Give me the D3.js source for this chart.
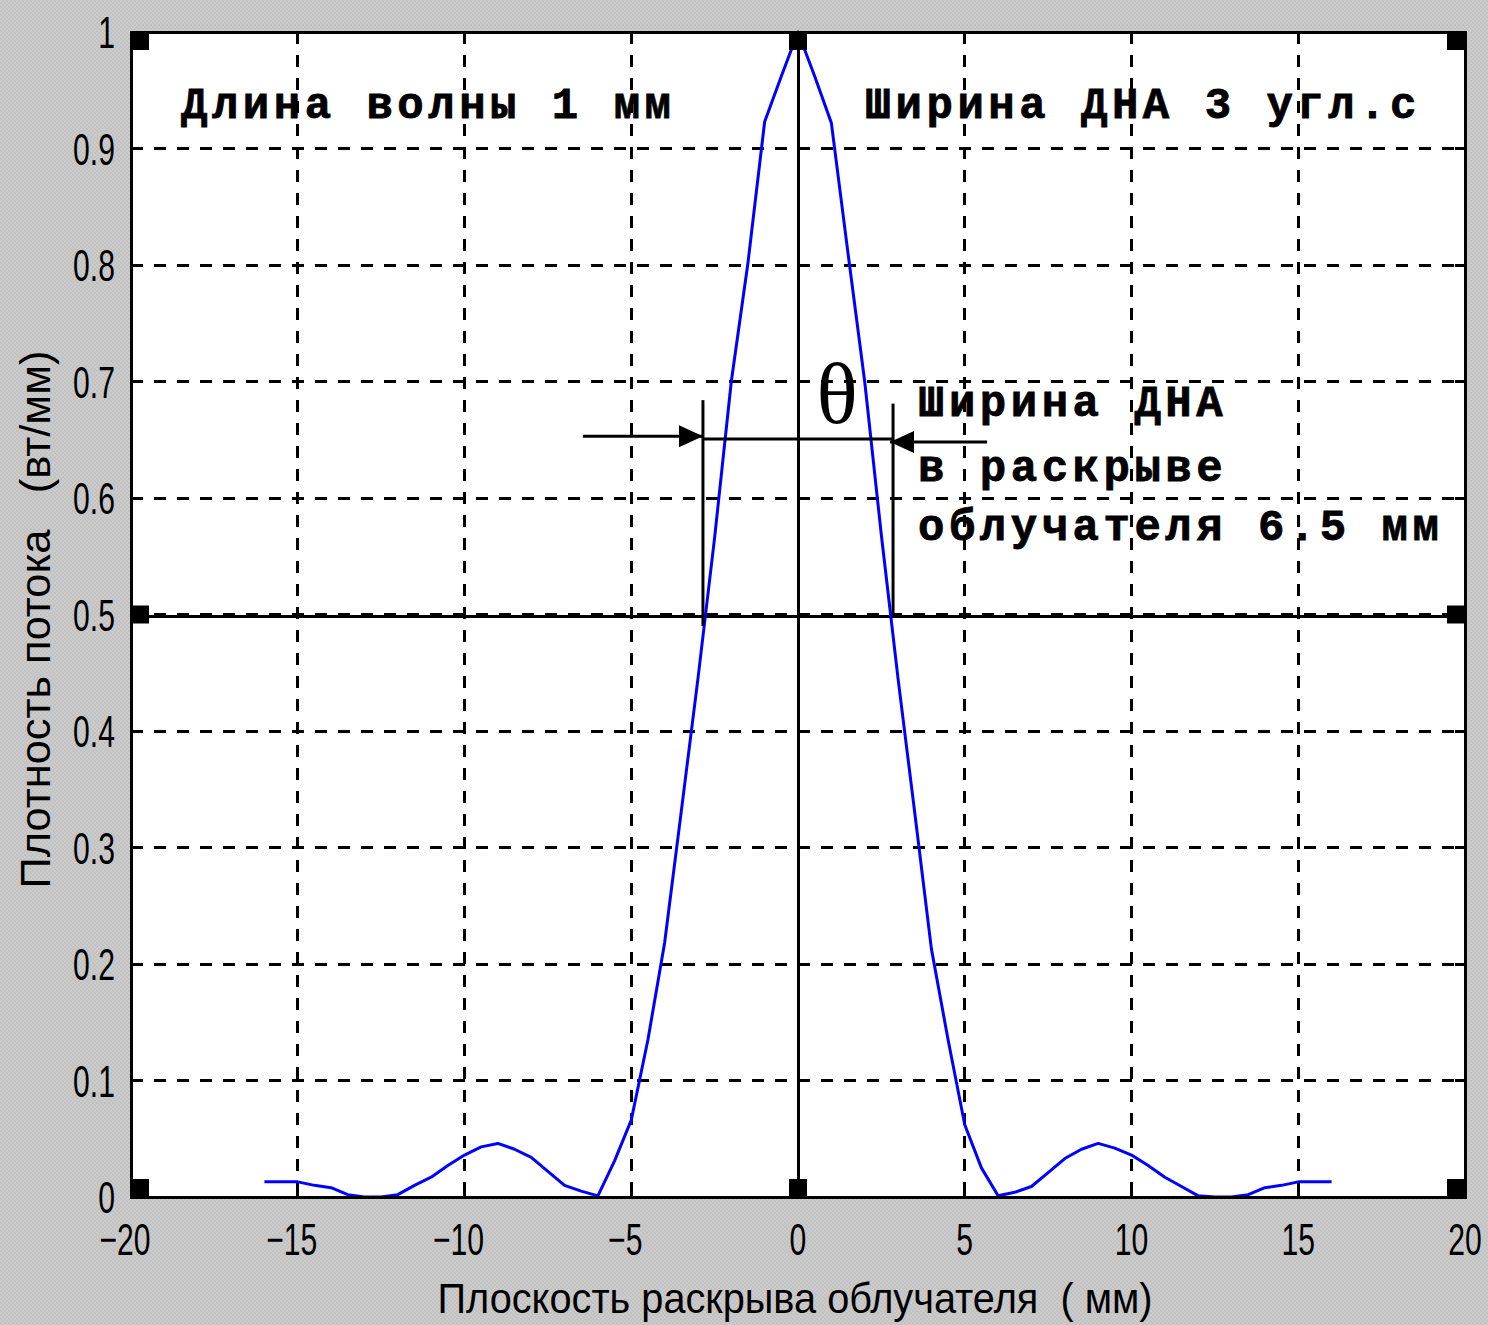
<!DOCTYPE html>
<html>
<head>
<meta charset="utf-8">
<script src="https://cdn.jsdelivr.net/npm/d3@7"></script>
<style>
  html, body { margin: 0; padding: 0; background: #c6c6c6; }
  svg { display: block; }
  text { white-space: pre; }
</style>
</head>
<body>
<script>
// Flux density across the feed aperture plane (mm), normalised to the peak.
const apertureMm = [
  -16, -15.5, -15, -14.5, -14, -13.5, -13, -12.5, -12, -11.5, -11, -10.5,
  -10, -9.5, -9, -8.5, -8, -7.5, -7, -6.5, -6, -5.5, -5, -4.5,
  -4, -3.5, -3, -2.5, -2, -1.5, -1, -0.5, 0,
  0.5, 1, 1.5, 2, 2.5, 3, 3.5, 4, 4.5, 5, 5.5,
  6, 6.5, 7, 7.5, 8, 8.5, 9, 9.5, 10, 10.5, 11, 11.5,
  12, 12.5, 13, 13.5, 14, 14.5, 15, 15.5, 16
];
const fluxDensity = [
  0.013, 0.013, 0.013, 0.010, 0.008, 0.002, 0.000, 0.000, 0.002, 0.010, 0.017, 0.027,
  0.036, 0.043, 0.046, 0.041, 0.034, 0.022, 0.010, 0.005, 0.001, 0.031, 0.066, 0.135,
  0.218, 0.331, 0.445, 0.566, 0.700, 0.802, 0.923, 0.962, 1.000,
  0.962, 0.922, 0.810, 0.700, 0.568, 0.445, 0.330, 0.213, 0.135, 0.062, 0.025,
  0.001, 0.004, 0.009, 0.021, 0.033, 0.041, 0.046, 0.042, 0.036, 0.027, 0.017, 0.009,
  0.001, 0.000, 0.000, 0.002, 0.008, 0.010, 0.013, 0.013, 0.013
];

const xTicks = [-20, -15, -10, -5, 0, 5, 10, 15, 20];
const xTickLabels = ["\u221220", "\u221215", "\u221210", "\u22125", "0", "5", "10", "15", "20"];
const yTicks = [0, 0.1, 0.2, 0.3, 0.4, 0.5, 0.6, 0.7, 0.8, 0.9, 1];
const yTickLabels = ["0", "0.1", "0.2", "0.3", "0.4", "0.5", "0.6", "0.7", "0.8", "0.9", "1"];

// Square markers on the frame points
const markerX = [-20, 0, 20, -20, 20, -20, 0, 20];
const markerY = [1, 1, 1, 0.5, 0.5, 0, 0, 0];

// Half-power level and beam edges
const halfPowerLevel = 0.5;
const beamEdges = [-2.85, 2.85];

// Annotation text (data coordinates of the text start / baseline)
const noteText = ["Длина волны 1 мм", "Ширина ДНА 3 угл.с", "Ширина ДНА", "в раскрыве", "облучателя 6.5 мм"];
const noteX = [-18.5, 2.0, 3.6, 3.6, 3.6];
const noteY = [0.926, 0.926, 0.67, 0.615, 0.564];

const xTitle = "Плоскость раскрыва облучателя  ( мм)";
const yTitle = "Плотность потока   (вт/мм)";

const W = 1488, H = 1325;
const margin = { left: 131, right: 23, top: 32, bottom: 128 };
const plotW = W - margin.left - margin.right;
const plotH = H - margin.top - margin.bottom;

const x = d3.scaleLinear().domain([-20, 20]).range([margin.left, margin.left + plotW]);
const y = d3.scaleLinear().domain([0, 1]).range([margin.top + plotH, margin.top]);

const svg = d3.select("body").append("svg")
  .attr("width", W).attr("height", H);

const defs = svg.append("defs");
// Dithered grey window background
const pat = defs.append("pattern").attr("id", "dither")
  .attr("width", 4).attr("height", 4).attr("patternUnits", "userSpaceOnUse");
pat.append("rect").attr("width", 4).attr("height", 4).attr("fill", "#c2c2c2");
pat.append("rect").attr("width", 2).attr("height", 2).attr("fill", "#cbcbcb");
pat.append("rect").attr("x", 2).attr("y", 2).attr("width", 2).attr("height", 2).attr("fill", "#cbcbcb");

defs.append("marker").attr("id", "arrowHead")
  .attr("markerUnits", "userSpaceOnUse")
  .attr("viewBox", "0 0 24 22").attr("refX", 24).attr("refY", 11)
  .attr("markerWidth", 24).attr("markerHeight", 22).attr("orient", "auto")
  .append("path").attr("d", "M0,0 L24,11 L0,22 Z").attr("fill", "#000");

svg.append("rect").attr("width", W).attr("height", H).attr("fill", "url(#dither)");

// Plot area
svg.append("rect")
  .attr("x", x(-20)).attr("y", y(1))
  .attr("width", x(20) - x(-20)).attr("height", y(0) - y(1))
  .attr("fill", "#fff");

const plot = svg.append("g");

// Dashed grid
plot.selectAll("line.vgrid").data(xTicks.filter(v => v !== 0 && Math.abs(v) !== 20))
  .join("line").attr("class", "vgrid")
  .attr("x1", d => x(d)).attr("x2", d => x(d))
  .attr("y1", y(1)).attr("y2", y(0))
  .attr("stroke", "#000").attr("stroke-width", 3)
  .attr("stroke-dasharray", "12,11").attr("shape-rendering", "crispEdges");

plot.selectAll("line.hgrid").data(yTicks.filter(v => v > 0 && v < 1))
  .join("line").attr("class", "hgrid")
  .attr("x1", x(-20)).attr("x2", x(20))
  .attr("y1", d => y(d)).attr("y2", d => y(d))
  .attr("stroke", "#000").attr("stroke-width", 3)
  .attr("stroke-dasharray", "12,11").attr("shape-rendering", "crispEdges");

// Solid reference lines: centre axis and half-power level
plot.append("line")
  .attr("x1", x(0)).attr("x2", x(0)).attr("y1", y(1)).attr("y2", y(0))
  .attr("stroke", "#000").attr("stroke-width", 3).attr("shape-rendering", "crispEdges");
plot.append("line")
  .attr("x1", x(-20)).attr("x2", x(20))
  .attr("y1", y(halfPowerLevel) + 2).attr("y2", y(halfPowerLevel) + 2)
  .attr("stroke", "#000").attr("stroke-width", 3).attr("shape-rendering", "crispEdges");

// Flux density curve
const line = d3.line().x(d => x(d[0])).y(d => y(d[1]));
plot.append("path")
  .datum(apertureMm.map((v, i) => [v, fluxDensity[i]]))
  .attr("d", line)
  .attr("fill", "none").attr("stroke", "#0000ff").attr("stroke-width", 3)
  .attr("stroke-linejoin", "round");

// Beam-width dimension lines
const dimTop = [0.684, 0.681];
const dimBottom = [0.49, 0.5];
beamEdges.forEach((e, i) => {
  plot.append("line")
    .attr("x1", x(e)).attr("x2", x(e))
    .attr("y1", y(dimTop[i])).attr("y2", y(dimBottom[i]))
    .attr("stroke", "#000").attr("stroke-width", 3);
});
plot.append("line")
  .attr("x1", x(beamEdges[0])).attr("x2", x(beamEdges[1]))
  .attr("y1", y(0.6506)).attr("y2", y(0.6506))
  .attr("stroke", "#000").attr("stroke-width", 3);
plot.append("line")
  .attr("x1", x(-6.45)).attr("x2", x(beamEdges[0]))
  .attr("y1", y(0.653)).attr("y2", y(0.653))
  .attr("stroke", "#000").attr("stroke-width", 3)
  .attr("marker-end", "url(#arrowHead)");
plot.append("line")
  .attr("x1", x(5.67)).attr("x2", x(beamEdges[1]) - 3)
  .attr("y1", y(0.648)).attr("y2", y(0.648))
  .attr("stroke", "#000").attr("stroke-width", 3)
  .attr("marker-end", "url(#arrowHead)");

// Theta symbol for beam width
plot.append("text")
  .attr("x", x(1.17)).attr("y", y(0.664))
  .attr("text-anchor", "middle")
  .attr("font-family", "'Times New Roman', 'Liberation Serif', serif")
  .attr("font-size", 86).attr("fill", "#000")
  .text("θ");

// Annotations
plot.selectAll("text.note").data(noteText)
  .join("text").attr("class", "note")
  .attr("x", (d, i) => x(noteX[i])).attr("y", (d, i) => y(noteY[i]))
  .attr("font-family", "'Courier New', 'Liberation Mono', monospace")
  .attr("font-weight", "bold").attr("font-size", 44)
  .attr("letter-spacing", "4.5px").attr("fill", "#000")
  .attr("stroke", "#000").attr("stroke-width", 0.8)
  .text(d => d);

// Square markers, kept inside the frame
const ms = 18;
const clamp = (v, lo, hi) => Math.max(lo, Math.min(hi, v));
plot.selectAll("rect.mk").data(markerX)
  .join("rect").attr("class", "mk")
  .attr("x", (d) => clamp(x(d) - ms / 2, x(-20), x(20) - ms))
  .attr("y", (d, i) => clamp(y(markerY[i]) - ms / 2, y(1), y(0) - ms))
  .attr("width", ms).attr("height", ms).attr("fill", "#000");

// Frame
svg.append("rect")
  .attr("x", x(-20)).attr("y", y(1))
  .attr("width", x(20) - x(-20)).attr("height", y(0) - y(1))
  .attr("fill", "none").attr("stroke", "#000").attr("stroke-width", 3)
  .attr("shape-rendering", "crispEdges");

// Inward ticks on all sides
const tk = 10;
const ticks = svg.append("g").attr("stroke", "#000").attr("stroke-width", 3)
  .attr("shape-rendering", "crispEdges");
xTicks.forEach(v => {
  ticks.append("line").attr("x1", x(v)).attr("x2", x(v)).attr("y1", y(0)).attr("y2", y(0) - tk);
  ticks.append("line").attr("x1", x(v)).attr("x2", x(v)).attr("y1", y(1)).attr("y2", y(1) + tk);
});
yTicks.forEach(v => {
  ticks.append("line").attr("x1", x(-20)).attr("x2", x(-20) + tk).attr("y1", y(v)).attr("y2", y(v));
  ticks.append("line").attr("x1", x(20)).attr("x2", x(20) - tk).attr("y1", y(v)).attr("y2", y(v));
});

// Tick labels (narrow sans)
const labelFont = "'Liberation Sans', Arial, sans-serif";
const sx = 0.67;
svg.selectAll("text.xt").data(xTicks)
  .join("text").attr("class", "xt")
  .attr("transform", d => `translate(${x(d) - (d < 0 ? 6 : 0)},${y(0) + 58}) scale(${sx},1)`)
  .attr("text-anchor", "middle")
  .attr("font-family", labelFont).attr("font-size", 45).attr("fill", "#000")
  .text((d, i) => xTickLabels[i]);

svg.selectAll("text.yt").data(yTicks)
  .join("text").attr("class", "yt")
  .attr("transform", d => `translate(${x(-20) - 16},${y(d) + 16}) scale(${sx},1)`)
  .attr("text-anchor", "end")
  .attr("font-family", labelFont).attr("font-size", 45).attr("fill", "#000")
  .text((d, i) => yTickLabels[i]);

// Axis titles
svg.append("text")
  .attr("x", 795).attr("y", 1313)
  .attr("text-anchor", "middle")
  .attr("font-family", labelFont).attr("font-size", 42).attr("fill", "#000")
  .attr("textLength", 715).attr("lengthAdjust", "spacingAndGlyphs")
  .text(xTitle);

svg.append("text")
  .attr("transform", `translate(50,${(y(0) + y(1)) / 2 + 5}) rotate(-90)`)
  .attr("text-anchor", "middle")
  .attr("font-family", labelFont).attr("font-size", 42).attr("fill", "#000")
  .attr("textLength", 538).attr("lengthAdjust", "spacingAndGlyphs")
  .text(yTitle);
</script>
</body>
</html>
